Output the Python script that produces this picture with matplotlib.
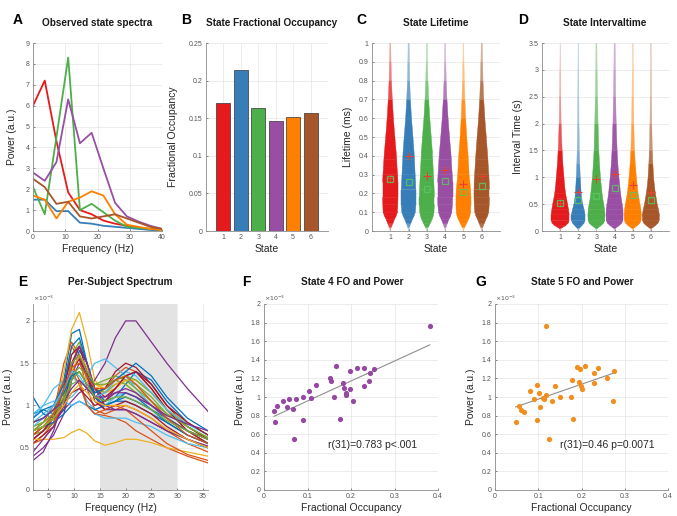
import numpy as np
import matplotlib
matplotlib.use("Agg")
import matplotlib.pyplot as plt
from matplotlib.ticker import FuncFormatter
from matplotlib.colors import to_rgb

plt.rcParams['font.family'] = ['Liberation Sans', 'DejaVu Sans']

# ---------------- data ----------------
STATE_COLORS = ['#e41a1c', '#377eb8', '#4daf4a', '#984ea3', '#ff7f00', '#a65628']
STATES = [1, 2, 3, 4, 5, 6]

# A: observed state spectra
FREQ_A = [0, 3.64, 7.27, 10.91, 14.55, 18.18, 21.82, 25.45, 29.09, 32.73, 36.36, 40]
SPEC_A = [
    [6.0, 7.2, 4.3, 1.85, 1.0, 0.8, 0.5, 0.35, 0.25, 0.15, 0.1, 0.05],   # red
    [1.5, 1.5, 0.95, 0.95, 0.4, 0.35, 0.25, 0.2, 0.15, 0.1, 0.05, 0.03], # blue
    [2.1, 0.8, 4.5, 8.3, 1.0, 1.3, 0.9, 0.5, 0.2, 0.15, 0.1, 0.05],      # green
    [2.8, 2.4, 3.3, 6.3, 4.2, 4.7, 3.0, 1.35, 0.7, 0.45, 0.25, 0.1],     # purple
    [1.7, 1.5, 0.6, 1.4, 1.6, 1.9, 1.7, 0.8, 0.3, 0.2, 0.1, 0.05],       # orange
    [2.5, 2.1, 1.3, 1.4, 0.7, 0.6, 0.7, 0.8, 0.6, 0.4, 0.2, 0.1],        # brown
]

# B: fractional occupancy
FO = [0.170, 0.214, 0.164, 0.146, 0.151, 0.157]

# C: lifetime distributions (half-width profiles)
LIFE_Y = [0.0, 0.02, 0.04, 0.06, 0.08, 0.10, 0.14, 0.18, 0.22, 0.26, 0.30, 0.34,
          0.38, 0.42, 0.50, 0.60, 0.70, 0.80, 0.90, 1.00]
LIFE_W = [
    [0, 0.06, 0.14, 0.22, 0.32, 0.39, 0.41, 0.42, 0.42, 0.42, 0.40, 0.37, 0.35, 0.32, 0.25, 0.17, 0.11, 0.065, 0.04, 0.02],
    [0, 0.05, 0.12, 0.20, 0.30, 0.37, 0.40, 0.40, 0.40, 0.38, 0.36, 0.34, 0.32, 0.30, 0.24, 0.16, 0.10, 0.06, 0.04, 0.025],
    [0, 0.08, 0.18, 0.28, 0.35, 0.39, 0.41, 0.41, 0.40, 0.38, 0.36, 0.34, 0.32, 0.30, 0.24, 0.16, 0.10, 0.06, 0.035, 0.02],
    [0, 0.05, 0.12, 0.20, 0.30, 0.36, 0.40, 0.41, 0.41, 0.41, 0.39, 0.36, 0.34, 0.31, 0.24, 0.16, 0.10, 0.06, 0.035, 0.02],
    [0, 0.07, 0.17, 0.27, 0.35, 0.39, 0.41, 0.41, 0.39, 0.35, 0.31, 0.29, 0.27, 0.24, 0.18, 0.12, 0.08, 0.05, 0.03, 0.015],
    [0, 0.06, 0.14, 0.22, 0.32, 0.38, 0.41, 0.42, 0.42, 0.41, 0.39, 0.36, 0.34, 0.31, 0.25, 0.17, 0.11, 0.07, 0.045, 0.025],
]
LIFE_MEDIAN = [0.275, 0.262, 0.225, 0.265, 0.205, 0.242]
LIFE_MEAN = [0.28, 0.40, 0.29, 0.325, 0.25, 0.29]

# D: interval time distributions
INTV_Y = [0.0, 0.05, 0.1, 0.15, 0.2, 0.3, 0.4, 0.5, 0.6, 0.7, 0.8, 1.0, 1.25, 1.5, 2.0, 2.5, 3.0, 3.5]
INTV_W = [
    [0, 0.05, 0.30, 0.45, 0.50, 0.50, 0.46, 0.41, 0.35, 0.30, 0.26, 0.21, 0.15, 0.11, 0.055, 0.03, 0.015, 0.0],
    [0, 0.05, 0.20, 0.32, 0.38, 0.38, 0.32, 0.24, 0.19, 0.16, 0.14, 0.11, 0.08, 0.06, 0.04, 0.03, 0.02, 0.008],
    [0, 0.05, 0.25, 0.40, 0.46, 0.47, 0.45, 0.40, 0.35, 0.31, 0.28, 0.22, 0.17, 0.13, 0.09, 0.06, 0.04, 0.025],
    [0, 0.05, 0.25, 0.40, 0.46, 0.47, 0.46, 0.42, 0.37, 0.33, 0.30, 0.24, 0.18, 0.14, 0.09, 0.06, 0.04, 0.025],
    [0, 0.05, 0.25, 0.40, 0.46, 0.47, 0.45, 0.40, 0.35, 0.30, 0.26, 0.20, 0.14, 0.10, 0.06, 0.04, 0.025, 0.01],
    [0, 0.05, 0.25, 0.40, 0.46, 0.47, 0.42, 0.35, 0.30, 0.25, 0.21, 0.15, 0.11, 0.08, 0.05, 0.03, 0.02, 0.008],
]
INTV_MEDIAN = [0.52, 0.57, 0.65, 0.80, 0.67, 0.57]
INTV_MEAN = [0.53, 0.72, 0.97, 1.07, 0.85, 0.73]

# E: per-subject spectra (x1e-3)
FREQ_E = [2, 4, 6, 8, 9.5, 11, 12.5, 14, 16, 18, 20, 22, 25, 28, 32, 36]
SPEC_E = [
    [0.9, 0.95, 0.9, 1.3, 1.85, 1.9, 1.5, 1.1, 1.0, 1.05, 1.1, 1.05, 0.95, 0.85, 0.7, 0.6],
    [0.6, 0.7, 0.9, 1.5, 1.75, 1.6, 1.3, 1.1, 1.2, 1.35, 1.45, 1.4, 1.2, 0.95, 0.7, 0.55],
    [0.7, 0.8, 0.9, 1.4, 1.9, 2.1, 1.75, 1.3, 1.15, 1.2, 1.3, 1.25, 1.05, 0.85, 0.7, 0.55],
    [0.65, 0.75, 0.8, 0.95, 1.05, 1.15, 1.2, 1.3, 1.5, 1.8, 2.0, 2.0, 1.75, 1.5, 1.2, 0.93],
    [0.7, 0.75, 0.85, 1.2, 1.6, 1.75, 1.5, 1.2, 1.15, 1.25, 1.3, 1.25, 1.1, 0.9, 0.75, 0.6],
    [0.8, 0.9, 1.0, 1.05, 1.1, 1.2, 1.35, 1.5, 1.55, 1.45, 1.35, 1.2, 1.0, 0.85, 0.7, 0.6],
    [0.6, 0.7, 0.8, 1.1, 1.5, 1.7, 1.5, 1.2, 1.1, 1.2, 1.35, 1.4, 1.2, 0.95, 0.7, 0.55],
    [1.1, 0.9, 0.85, 0.95, 1.3, 1.65, 1.5, 1.2, 1.05, 1.1, 1.25, 1.4, 1.3, 1.05, 0.8, 0.65],
    [0.55, 0.65, 0.8, 1.2, 1.7, 1.55, 1.2, 0.95, 0.9, 0.95, 1.0, 0.95, 0.85, 0.7, 0.55, 0.45],
    [0.75, 0.8, 0.9, 1.1, 1.3, 1.4, 1.3, 1.2, 1.25, 1.3, 1.25, 1.15, 1.0, 0.85, 0.7, 0.6],
    [0.4, 0.5, 0.65, 0.9, 1.3, 1.5, 1.35, 1.1, 0.95, 0.95, 0.95, 0.9, 0.8, 0.7, 0.6, 0.5],
    [0.65, 0.7, 0.8, 1.0, 1.25, 1.3, 1.2, 1.15, 1.2, 1.3, 1.25, 1.15, 1.0, 0.85, 0.7, 0.6],
    [0.85, 1.0, 1.2, 1.3, 1.35, 1.25, 1.05, 0.95, 1.0, 1.1, 1.15, 1.1, 1.0, 0.85, 0.7, 0.6],
    [0.55, 0.65, 0.75, 1.0, 1.4, 1.55, 1.35, 1.15, 1.2, 1.4, 1.5, 1.45, 1.25, 1.0, 0.75, 0.6],
    [0.7, 0.75, 0.8, 0.9, 1.0, 1.05, 1.0, 0.95, 1.0, 1.05, 1.05, 1.0, 0.9, 0.8, 0.65, 0.55],
    [0.7, 0.8, 1.0, 1.3, 1.5, 1.3, 1.0, 0.9, 0.88, 0.85, 0.8, 0.7, 0.6, 0.5, 0.4, 0.32],
    [0.6, 0.6, 0.6, 0.62, 0.68, 0.72, 0.67, 0.58, 0.53, 0.56, 0.6, 0.6, 0.56, 0.5, 0.45, 0.4],
    [0.35, 0.45, 0.7, 1.1, 1.5, 1.6, 1.35, 1.1, 1.05, 1.15, 1.2, 1.15, 1.0, 0.85, 0.7, 0.6],
    [0.75, 0.8, 0.9, 1.1, 1.35, 1.45, 1.35, 1.25, 1.3, 1.35, 1.3, 1.2, 1.05, 0.9, 0.75, 0.62],
    [0.9, 1.0, 1.05, 1.05, 1.0, 1.05, 1.0, 0.9, 0.85, 0.85, 0.85, 0.8, 0.75, 0.65, 0.55, 0.5],
    [0.6, 0.7, 0.85, 1.2, 1.6, 1.7, 1.4, 1.05, 0.95, 1.0, 1.05, 1.0, 0.9, 0.75, 0.6, 0.5],
    [0.85, 0.95, 1.0, 1.25, 1.7, 1.8, 1.5, 1.1, 1.0, 1.05, 1.15, 1.1, 0.95, 0.8, 0.65, 0.55],
    [0.55, 0.6, 0.75, 1.1, 1.4, 1.25, 1.0, 0.9, 0.95, 1.0, 0.95, 0.85, 0.7, 0.55, 0.42, 0.35],
    [0.8, 0.85, 0.95, 1.15, 1.4, 1.6, 1.45, 1.25, 1.2, 1.25, 1.3, 1.3, 1.15, 0.95, 0.8, 0.65],
    [0.45, 0.6, 0.75, 1.0, 1.45, 1.7, 1.5, 1.2, 1.0, 0.95, 0.95, 0.9, 0.8, 0.7, 0.6, 0.52],
    [0.7, 0.8, 0.9, 1.1, 1.5, 1.6, 1.4, 1.25, 1.25, 1.3, 1.35, 1.3, 1.15, 0.95, 0.75, 0.62],
    [0.75, 0.85, 1.0, 1.2, 1.4, 1.35, 1.2, 1.1, 1.15, 1.3, 1.4, 1.35, 1.15, 0.95, 0.78, 0.65],
    [0.65, 0.75, 0.85, 1.0, 1.15, 1.2, 1.1, 1.0, 1.05, 1.2, 1.35, 1.4, 1.25, 1.0, 0.8, 0.65],
    [0.8, 0.85, 0.95, 1.15, 1.35, 1.4, 1.25, 1.15, 1.2, 1.3, 1.4, 1.5, 1.35, 1.1, 0.85, 0.7],
    [0.65, 0.75, 0.9, 1.2, 1.45, 1.5, 1.35, 1.2, 1.2, 1.3, 1.35, 1.25, 1.05, 0.85, 0.65, 0.55],
    [0.7, 0.75, 0.85, 1.0, 1.15, 1.25, 1.15, 1.05, 1.0, 1.0, 1.0, 0.95, 0.85, 0.72, 0.6, 0.5],
    [0.8, 0.85, 0.95, 1.05, 1.2, 1.3, 1.2, 1.1, 1.1, 1.15, 1.15, 1.1, 1.0, 0.88, 0.78, 0.7],
    [0.7, 0.75, 0.85, 1.05, 1.3, 1.4, 1.25, 1.1, 1.05, 1.1, 1.1, 1.05, 0.95, 0.82, 0.7, 0.6],
]
MATLAB_COLORS = ['#0072BD', '#D95319', '#EDB120', '#7E2F8E', '#77AC30', '#4DBEEE', '#A2142F']

# F: state 4 FO vs power (x1e-3)
FO4 = [0.023, 0.0245, 0.030, 0.0437, 0.054, 0.057, 0.066, 0.069, 0.073, 0.089, 0.089,
       0.103, 0.108, 0.120, 0.152, 0.153, 0.160, 0.166, 0.175, 0.182, 0.183, 0.188,
       0.189, 0.198, 0.198, 0.205, 0.214, 0.229, 0.230, 0.241, 0.244, 0.254, 0.381]
POW4 = [0.85, 0.735, 0.907, 0.957, 0.896, 0.975, 0.867, 0.548, 0.978, 1.0, 0.756,
        1.065, 0.989, 1.129, 1.2, 1.176, 1.004, 1.333, 0.763, 1.151, 1.10, 1.039,
        1.025, 1.28, 1.09, 0.96, 1.308, 1.315, 1.122, 1.168, 1.254, 1.305, 1.763]

# G: state 5 FO vs power (x1e-3)
FO5 = [0.0477, 0.056, 0.060, 0.067, 0.081, 0.090, 0.096, 0.098, 0.101, 0.105, 0.110,
       0.114, 0.117, 0.119, 0.126, 0.132, 0.138, 0.150, 0.175, 0.178, 0.181, 0.189,
       0.194, 0.197, 0.198, 0.200, 0.208, 0.228, 0.229, 0.238, 0.258, 0.273, 0.275]
POW5 = [0.735, 0.907, 0.86, 0.842, 1.065, 0.978, 0.756, 1.129, 1.039, 0.896, 0.993,
        0.975, 1.763, 1.021, 0.548, 0.957, 1.122, 1.0, 1.0, 1.179, 0.763, 1.319,
        1.165, 1.305, 1.118, 1.09, 1.333, 1.147, 1.254, 1.308, 1.2, 0.96, 1.283]

# ---------------- figure ----------------
W, H = 677, 516
fig = plt.figure(figsize=(W / 100, H / 100), dpi=100)

def axes_px(x0, x1, y0, y1):
    return fig.add_axes([x0 / W, 1 - y1 / H, (x1 - x0) / W, (y1 - y0) / H])

TICK_FS = 5
LAB_FS = 7.5
TITLE_FS = 7.2
LETTER_FS = 10
GRID_C = '#e4e4e4'
AX_C = '#8c8c8c'
TXT_C = '#262626'

fmt = FuncFormatter(lambda v, p: ('%g' % round(v, 6)))

def style(ax, ylab_px=None, ylabel=None, xlabel=None):
    for s in ['top', 'right']:
        ax.spines[s].set_visible(False)
    for s in ['left', 'bottom']:
        ax.spines[s].set_color(AX_C)
        ax.spines[s].set_linewidth(0.6)
    ax.tick_params(axis='both', labelsize=TICK_FS, colors='#555555', direction='in',
                   length=1.5, width=0.5, pad=2.5)
    ax.grid(True, color=GRID_C, linewidth=0.5)
    ax.set_axisbelow(True)
    ax.xaxis.set_major_formatter(fmt)
    ax.yaxis.set_major_formatter(fmt)
    if ylabel:
        ax.set_ylabel(ylabel, fontsize=LAB_FS, color=TXT_C, labelpad=ylab_px)
    if xlabel:
        ax.set_xlabel(xlabel, fontsize=LAB_FS, color=TXT_C, labelpad=1.5)

def title(xc, yc, text):
    fig.text(xc / W, 1 - yc / H, text, ha='center', va='center', fontsize=TITLE_FS,
             fontweight='bold', color='#1a1a1a')

def letter(xc, yc, text):
    fig.text(xc / W, 1 - yc / H, text, ha='center', va='center', fontsize=LETTER_FS,
             fontweight='bold', color='black')

# A
axA = axes_px(33, 162, 43, 231)
for vals, c in zip(SPEC_A, STATE_COLORS):
    axA.plot(FREQ_A, vals, color=c, linewidth=1.3)
axA.set_xlim(0, 40)
axA.set_ylim(0, 9)
axA.set_xticks([0, 10, 20, 30, 40])
axA.set_yticks(range(0, 10))
style(axA, 6, 'Power (a.u.)', 'Frequency (Hz)')
title(97, 23.5, 'Observed state spectra')
letter(18, 20, 'A')

# B
axB = axes_px(206, 328, 43, 231)
axB.bar(STATES, FO, width=0.8, color=STATE_COLORS, edgecolor='#333333', linewidth=0.5)
axB.set_xlim(0, 7)
axB.set_ylim(0, 0.25)
axB.set_xticks(STATES)
axB.set_yticks([0, 0.05, 0.1, 0.15, 0.2, 0.25])
style(axB, 8, 'Fractional Occupancy', 'State')
title(272, 23.5, 'State Fractional Occupancy')
letter(186, 20, 'B')

def blend(c, a):
    r = np.array(to_rgb(c))
    return tuple(a * r + (1 - a) * np.ones(3))

def violins(ax, ylev, widths, med, mean, mk):
    ylev = np.asarray(ylev)
    for s, wl, c, md, mn in zip(STATES, widths, STATE_COLORS, med, mean):
        wl = np.asarray(wl)
        for k in range(len(ylev) - 1):
            w0, w1 = wl[k], wl[k + 1]
            y0, y1 = ylev[k], ylev[k + 1]
            a = float(np.clip(0.25 + 6 * (w0 + w1) / 2, 0, 1))
            fc = blend(c, a)
            ax.fill([s - w0, s + w0, s + w1, s - w1], [y0, y0, y1, y1], facecolor=fc,
                    edgecolor=fc, linewidth=0.3, zorder=2)
        ax.plot([s], [mn], marker='+', color='#e8402e', markersize=mk, mew=0.8, zorder=4)
        ax.plot([s], [md], marker='s', markerfacecolor='none', markeredgecolor='#58c860',
                markersize=mk - 1, mew=0.9, alpha=0.85, zorder=4)

# C
axC = axes_px(372, 500, 43, 231)
violins(axC, LIFE_Y, LIFE_W, LIFE_MEDIAN, LIFE_MEAN, 6)
axC.set_xlim(0, 7)
axC.set_ylim(0, 1)
axC.set_xticks(STATES)
axC.set_yticks(np.arange(0, 1.01, 0.1))
style(axC, 4, 'Lifetime (ms)', 'State')
title(436, 23.5, 'State Lifetime')
letter(361, 20, 'C')

# D
axD = axes_px(542, 669, 43, 231)
violins(axD, INTV_Y, INTV_W, INTV_MEDIAN, INTV_MEAN, 6)
axD.set_xlim(0, 7)
axD.set_ylim(0, 3.5)
axD.set_xticks(STATES)
axD.set_yticks(np.arange(0, 3.51, 0.5))
style(axD, 4, 'Interval Time (s)', 'State')
title(605, 23.5, 'State Intervaltime')
letter(523, 20, 'D')

# E
axE = axes_px(33, 208, 304, 490)
axE.axvspan(15, 30, color='#e3e3e3', zorder=0.5, linewidth=0)
for i, vals in enumerate(SPEC_E):
    axE.plot(FREQ_E, vals, color=MATLAB_COLORS[i % 7], linewidth=0.9, zorder=2)
axE.set_xlim(2, 36)
axE.set_ylim(0, 2.2)
axE.set_xticks([5, 10, 15, 20, 25, 30, 35])
axE.set_yticks([0, 0.5, 1, 1.5, 2])
style(axE, 5, 'Power (a.u.)', 'Frequency (Hz)')
axE.text(0.0, 1.005, r'$\times10^{-3}$', transform=axE.transAxes, fontsize=4.5,
         color='#555555', ha='left', va='bottom')
title(120, 282, 'Per-Subject Spectrum')
letter(23, 282, 'E')

def scatter_panel(ax, x, y, color, label, tx):
    ax.scatter(x, y, s=14, color=color, linewidths=0, zorder=3)
    p = np.polyfit(x, y, 1)
    xs = np.array([min(x), max(x)])
    ax.plot(xs, np.polyval(p, xs), color='#8f8f8f', linewidth=0.8, zorder=2)
    ax.set_xlim(0, 0.4)
    ax.set_ylim(0, 2)
    ax.set_xticks([0, 0.1, 0.2, 0.3, 0.4])
    ax.set_yticks(np.arange(0, 2.01, 0.2))
    style(ax, 4, 'Power (a.u.)', 'Fractional Occupancy')
    ax.text(tx, 0.485, label, fontsize=7.5, color=TXT_C, ha='left', va='center')
    ax.text(0.0, 1.005, r'$\times10^{-3}$', transform=ax.transAxes, fontsize=4.5,
            color='#555555', ha='left', va='bottom')

axF = axes_px(264, 438, 304, 490)
scatter_panel(axF, FO4, POW4, '#9448a2', 'r(31)=0.783 p<.001', 0.148)
title(352, 282, 'State 4 FO and Power')
letter(246, 282, 'F')

axG = axes_px(495, 668, 304, 490)
scatter_panel(axG, FO5, POW5, '#f28e1c', 'r(31)=0.46 p=0.0071', 0.15)
title(582, 282, 'State 5 FO and Power')
letter(481, 282, 'G')

fig.savefig('out.png', dpi=100)
